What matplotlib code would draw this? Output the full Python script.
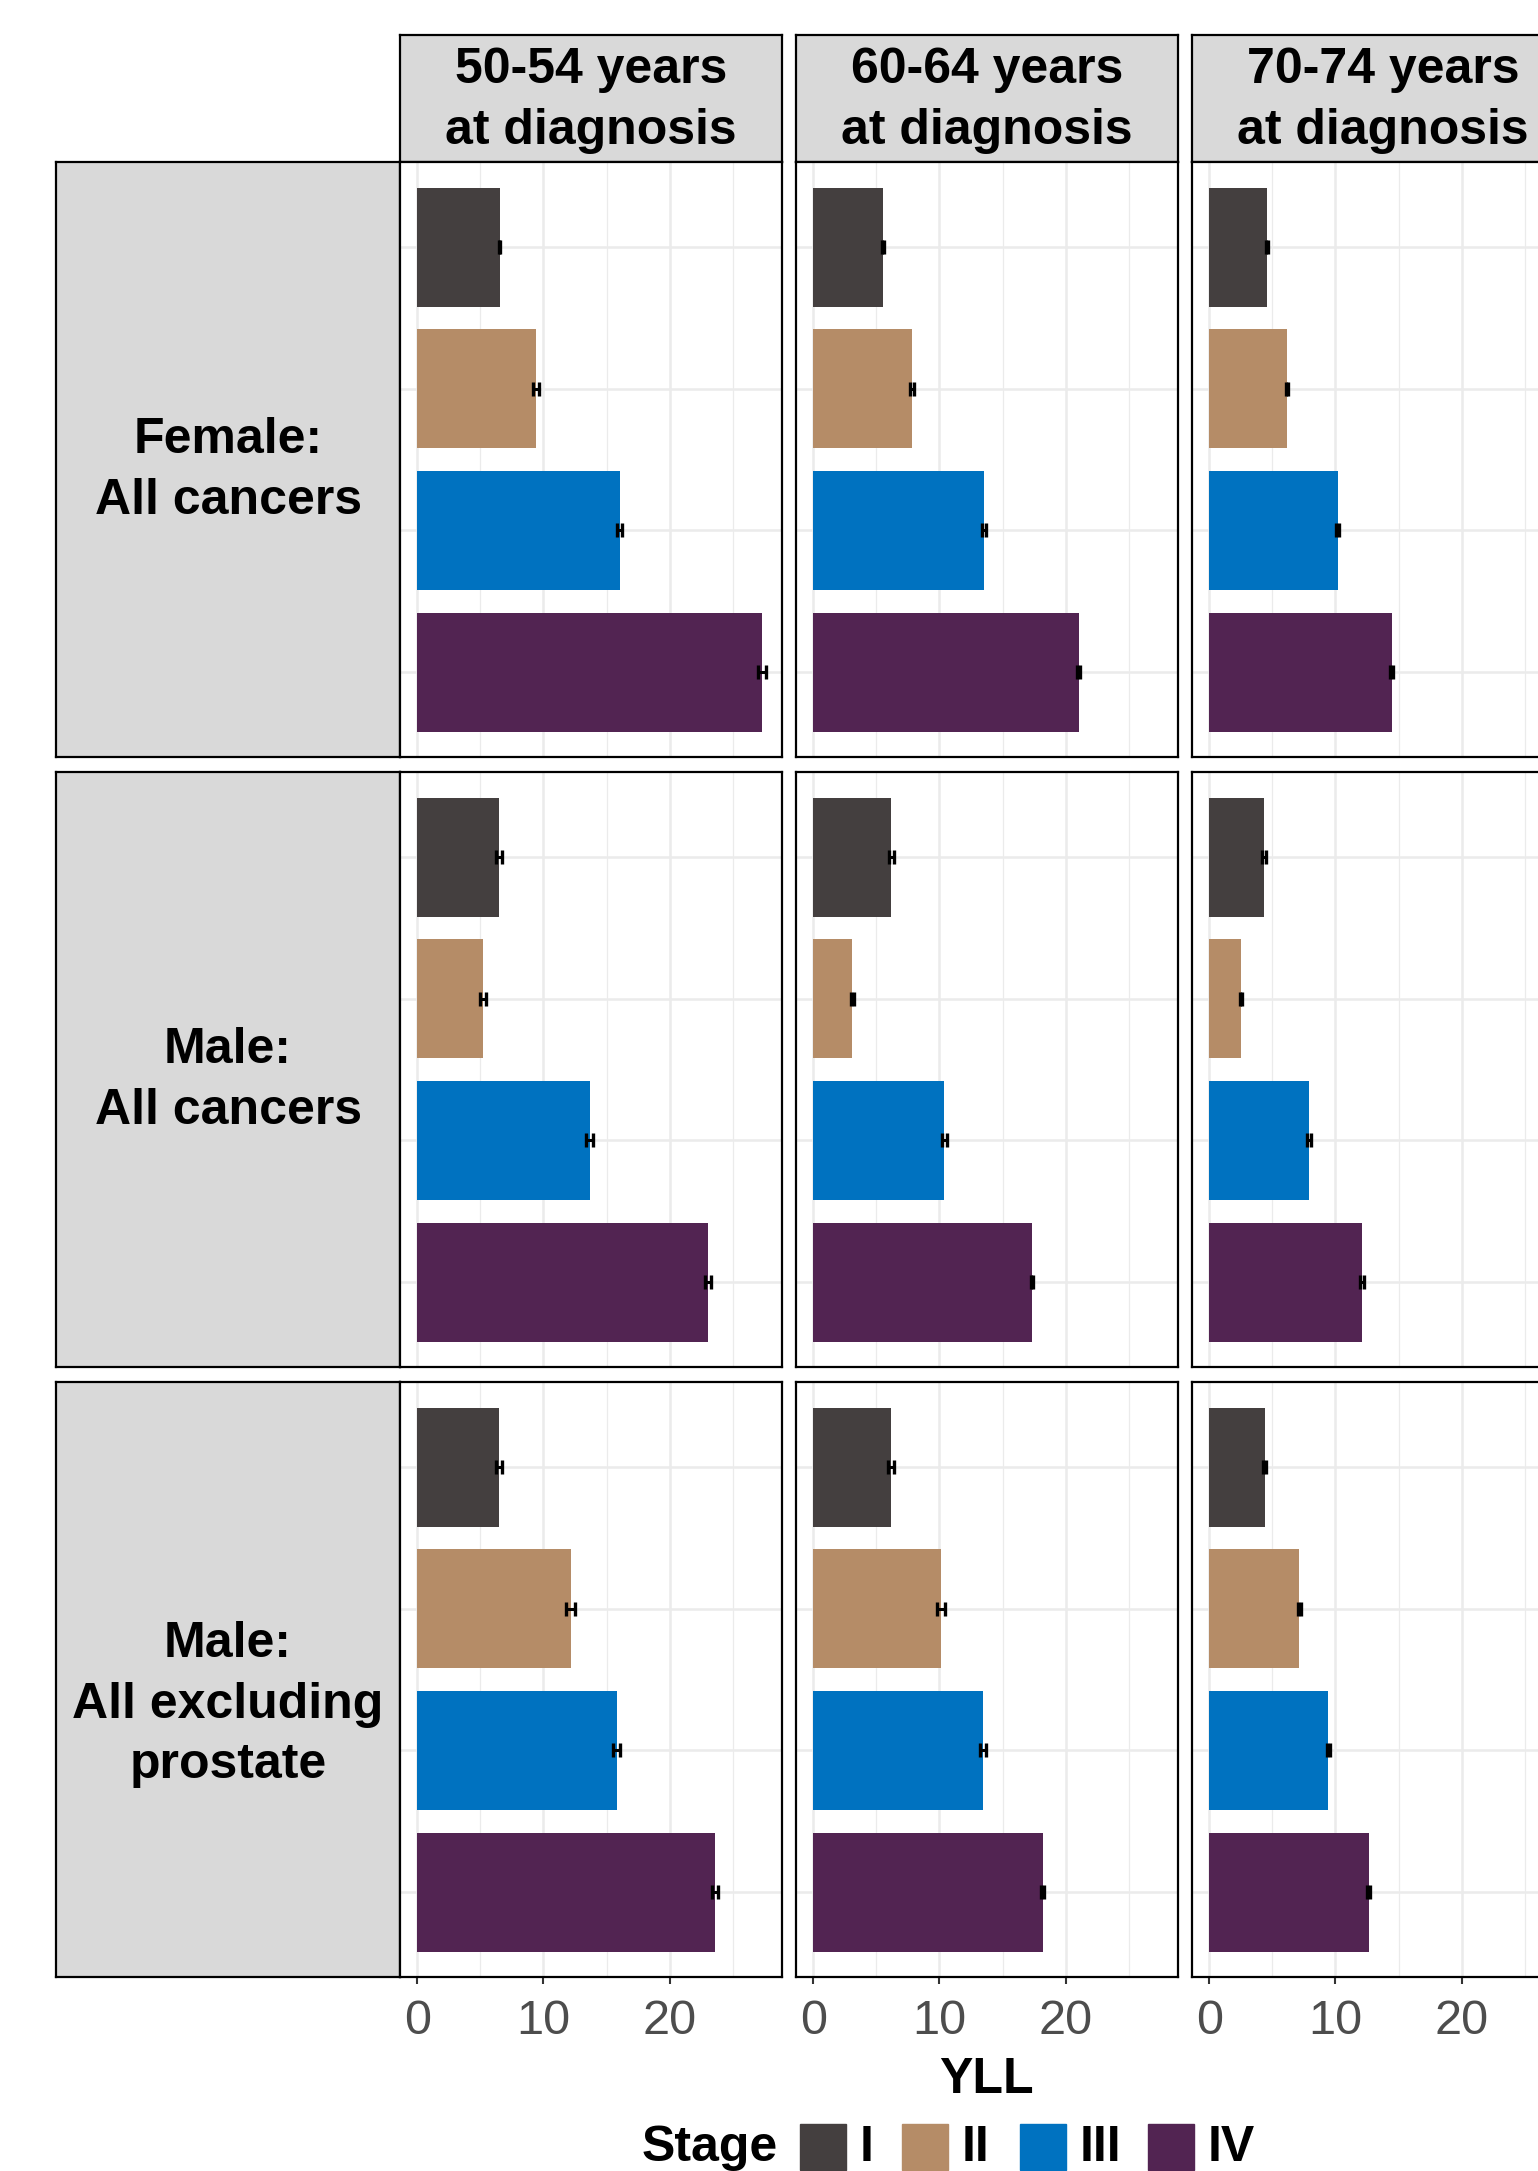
import matplotlib.pyplot as plt
from matplotlib.patches import Rectangle
import numpy as np

plt.rcParams['font.family'] = ['Liberation Sans', 'DejaVu Sans']

# facet labels
age_groups = ['50-54 years\nat diagnosis', '60-64 years\nat diagnosis', '70-74 years\nat diagnosis']
cancer_groups = ['Female:\nAll cancers', 'Male:\nAll cancers', 'Male:\nAll excluding\nprostate']
stages = ['I', 'II', 'III', 'IV']
stage_colors = ['#443f3f', '#b58c67', '#0072c0', '#522452']
xticks = [0, 10, 20]

# mean YLL by stage (I..IV), one list per age group
yll_female_all = [[6.55, 9.39, 16.03, 27.3], [5.55, 7.84, 13.53, 21.03], [4.58, 6.16, 10.18, 14.45]]
yll_male_all = [[6.47, 5.21, 13.66, 23.05], [6.18, 3.11, 10.37, 17.32], [4.34, 2.53, 7.89, 12.08]]
yll_male_noprost = [[6.47, 12.16, 15.79, 23.6], [6.18, 10.13, 13.45, 18.18], [4.40, 7.14, 9.45, 12.64]]

# half width of the confidence intervals
ci_female_all = [[0.05, 0.25, 0.2, 0.3], [0.1, 0.15, 0.15, 0.1], [0.1, 0.1, 0.1, 0.1]]
ci_male_all = [[0.25, 0.25, 0.25, 0.25], [0.2, 0.1, 0.2, 0.1], [0.15, 0.1, 0.15, 0.15]]
ci_male_noprost = [[0.25, 0.35, 0.3, 0.25], [0.25, 0.3, 0.25, 0.1], [0.1, 0.1, 0.1, 0.1]]

yll = [yll_female_all, yll_male_all, yll_male_noprost]
ci = [ci_female_all, ci_male_all, ci_male_noprost]

W, H = 1538, 2171
fig = plt.figure(figsize=(W / 100, H / 100), dpi=100)


def box(x0, y0, x1, y1):
    # pixel box (top-left origin) -> figure fraction rect
    return [x0 / W, 1 - y1 / H, (x1 - x0) / W, (y1 - y0) / H]


def strip(x0, y0, x1, y1, label, dy=0):
    s = fig.add_axes(box(x0, y0, x1, y1))
    s.set_facecolor('#d9d9d9')
    s.set_xticks([])
    s.set_yticks([])
    for sp in s.spines.values():
        sp.set_linewidth(1.6)
        sp.set_color('black')
    yc = 0.5 - dy / (y1 - y0)
    s.text(0.5, yc, label, ha='center', va='center', multialignment='center',
           fontsize=36, fontweight='bold', linespacing=1.4, transform=s.transAxes)
    return s


col_x = [400, 796, 1192]
row_y = [162, 772, 1382]
pw, ph = 382, 595
pos = np.arange(len(stages))
row_dy = [11, 11, 25]

for j, lab in enumerate(age_groups):
    strip(col_x[j], 35, col_x[j] + pw, 162, lab, dy=2)

for i, grp in enumerate(cancer_groups):
    strip(56, row_y[i], 400, row_y[i] + ph, grp, dy=row_dy[i])
    for j in range(len(age_groups)):
        ax = fig.add_axes(box(col_x[j], row_y[i], col_x[j] + pw, row_y[i] + ph))
        ax.barh(pos, yll[i][j], height=0.84, color=stage_colors, zorder=2)
        ax.errorbar(yll[i][j], pos, xerr=ci[i][j], fmt='none', ecolor='black',
                    elinewidth=2.2, capsize=5, capthick=2.4, zorder=3)
        ax.set_xlim(-1.36, 28.9)
        ax.set_ylim(3.6, -0.6)
        ax.set_xticks(xticks)
        ax.set_xticks([5, 15, 25], minor=True)
        ax.set_yticks(pos)
        ax.grid(which='major', color='#ebebeb', lw=1.8, zorder=0)
        ax.grid(which='minor', axis='x', color='#ebebeb', lw=0.9, zorder=0)
        ax.set_axisbelow(True)
        ax.tick_params(axis='y', length=0, labelleft=False)
        ax.tick_params(axis='x', which='minor', length=0)
        for sp in ax.spines.values():
            sp.set_linewidth(1.6)
            sp.set_color('black')
        if i == len(cancer_groups) - 1:
            ax.tick_params(axis='x', which='major', length=5, width=1.5, color='#333333',
                           labelsize=35, labelcolor='#4d4d4d', pad=11)
        else:
            ax.tick_params(axis='x', which='major', length=0, labelbottom=False)

fig.text(986 / W, 1 - 2080 / H, 'YLL', ha='center', va='center', fontsize=36, fontweight='bold')

# legend along the bottom
fig.text(642 / W, 1 - 2148 / H, 'Stage', ha='left', va='center', fontsize=36, fontweight='bold')
key_x = [800, 902, 1020, 1148]
for k, st in enumerate(stages):
    fig.add_artist(Rectangle((key_x[k] / W, 1 - 2170 / H), 46 / W, 46 / H,
                             transform=fig.transFigure, color=stage_colors[k]))
    fig.text((key_x[k] + 60) / W, 1 - 2148 / H, st, ha='left', va='center',
             fontsize=36, fontweight='bold')

fig.savefig('out.png', dpi=100)
